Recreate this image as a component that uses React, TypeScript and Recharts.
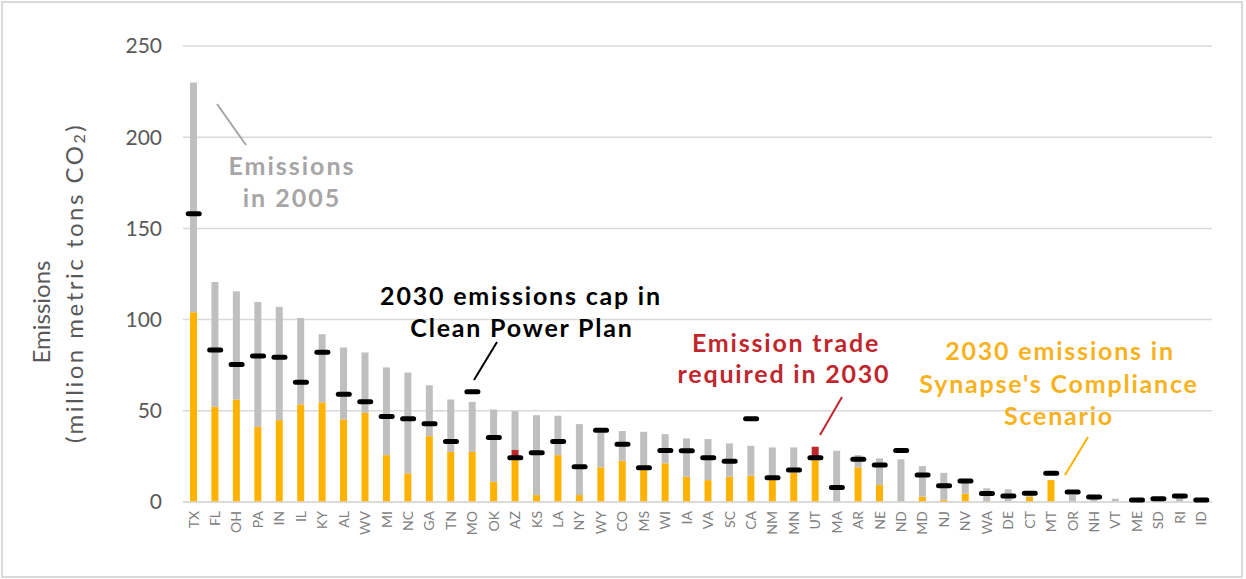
import React from 'react';
import { ComposedChart, Bar, Line, XAxis, YAxis, CartesianGrid } from 'recharts';

const STATES = [
  'TX', 'FL', 'OH', 'PA', 'IN', 'IL', 'KY', 'AL', 'WV', 'MI', 'NC', 'GA', 'TN', 'MO', 'OK', 'AZ',
  'KS', 'LA', 'NY', 'WY', 'CO', 'MS', 'WI', 'IA', 'VA', 'SC', 'CA', 'NM', 'MN', 'UT', 'MA', 'AR',
  'NE', 'ND', 'MD', 'NJ', 'NV', 'WA', 'DE', 'CT', 'MT', 'OR', 'NH', 'VT', 'ME', 'SD', 'RI', 'ID',
];

// 2005 emissions (grey bar total)
const EMISSIONS_2005 = [
  230, 120.6, 115.5, 109.7, 107, 100.9, 92, 84.7, 82, 73.8, 71, 64, 56.2, 54.9, 50.7, 49.8,
  47.6, 47.3, 42.7, 38, 38.9, 38.5, 37.2, 34.9, 34.5, 32.1, 30.8, 29.9, 29.9, 29.5, 28.1, 25.7,
  23.9, 23.4, 19.7, 16, 12, 7.5, 7, 4.5, 12, 3.8, 2.5, 1.8, 1, 1.5, 3, 1,
];

// Clean Power Plan 2030 cap (black marks), VT has none
const CAP_2030 = [
  158, 83.4, 75.4, 80.1, 79.4, 65.7, 82.1, 59.1, 54.9, 46.9, 45.6, 42.9, 33.2, 60.4, 35.4, 24.3,
  27, 33.2, 19.3, 39.4, 31.6, 18.8, 28.3, 28.1, 24.3, 22.3, 45.6, 13.3, 17.5, 24.3, 8, 23.5,
  20.3, 28.3, 14.8, 8.9, 11.5, 4.6, 3.3, 4.8, 15.7, 5.5, 2.7, null, 1.1, 1.8, 3.3, 1.1,
];

// Synapse compliance scenario 2030 emissions
const SYNAPSE_2030 = [
  104, 52.2, 56.2, 41.2, 44.9, 53.5, 54.6, 45.3, 48.9, 25.7, 15.7, 36.1, 27.5, 27.5, 11.1, 28.5,
  3.8, 25.7, 3.8, 19, 22.6, 19.6, 21.2, 13.9, 12, 13.9, 14.4, 12.4, 16, 30.3, 0, 19,
  9.3, 0.3, 2.9, 1.3, 4.5, 0.5, 0, 2.9, 12, 0, 0, 0, 0, 0, 0, 0,
];

const Y_TICKS = [0, 50, 100, 150, 200, 250];

const YELLOW = '#FFB300';
const GREY = '#BFBFBF';
const RED = '#C0272D';
const FONT = 'Lato, "Open Sans", sans-serif';

const data = STATES.map((state, i) => {
  const cap = CAP_2030[i];
  const syn = SYNAPSE_2030[i];
  return {
    state,
    withinCap: cap == null ? syn : Math.min(syn, cap),
    trade: cap == null ? 0 : Math.max(0, syn - cap),
    rest: Math.max(0, EMISSIONS_2005[i] - syn),
    cap,
  };
});

const StateTick = ({ x, y, payload }: any) => (
  <text
    x={x}
    y={y}
    transform={`rotate(-90 ${x} ${y})`}
    textAnchor="end"
    dy="0.35em"
    fontSize={14}
    fill="#808080"
    fontFamily={FONT}
  >
    {payload.value}
  </text>
);

const CapMark = (props: any) => {
  const { cx, cy, index } = props;
  if (cy == null || isNaN(cy)) return <g key={`cap-${index}`} />;
  return <rect key={`cap-${index}`} x={cx - 8} y={cy - 2.5} width={16} height={5} rx={2.5} fill="#000" />;
};

export default function App() {
  return (
    <div style={{ position: 'absolute', left: 0, top: 0, width: 1246, height: 579, background: '#fff' }}>
      <ComposedChart
        width={1246}
        height={579}
        data={data}
        margin={{ top: 46, right: 34, bottom: 0, left: 0 }}
        barCategoryGap={0}
      >
        <CartesianGrid vertical={false} stroke="#D9D9D9" strokeWidth={1.5} />
        <XAxis
          dataKey="state"
          interval={0}
          height={77}
          tick={<StateTick />}
          tickLine={false}
          tickSize={0}
          tickMargin={9}
          axisLine={{ stroke: '#D9D9D9', strokeWidth: 1.5 }}
        />
        <YAxis
          width={183}
          domain={[0, 250]}
          ticks={Y_TICKS}
          axisLine={false}
          tickLine={false}
          tickSize={0}
          tickMargin={21}
          tick={{ fill: '#595959', fontSize: 21, fontFamily: FONT }}
        />
        <Bar dataKey="withinCap" stackId="s" fill={YELLOW} barSize={7} isAnimationActive={false} />
        <Bar dataKey="trade" stackId="s" fill={RED} barSize={7} isAnimationActive={false} />
        <Bar dataKey="rest" stackId="s" fill={GREY} barSize={7} isAnimationActive={false} />
        <Line
          dataKey="cap"
          stroke="none"
          dot={CapMark}
          activeDot={false}
          legendType="none"
          isAnimationActive={false}
        />
      </ComposedChart>

      <svg
        width={1246}
        height={579}
        style={{ position: 'absolute', left: 0, top: 0, pointerEvents: 'none' }}
        fontFamily={FONT}
      >
        <rect x={2} y={2} width={1240} height={575} fill="none" stroke="#DADADA" strokeWidth={2} />

        {/* y axis title */}
        <text x={40} y={312} transform="rotate(-90 40 312)" textAnchor="middle" dominantBaseline="central" fontSize={24} fill="#595959">
          Emissions
        </text>
        <text x={73} y={283} transform="rotate(-90 73 283)" textAnchor="middle" dominantBaseline="central" fontSize={24} letterSpacing={2.5} fill="#595959">
          (million metric tons CO<tspan fontSize={16} dy={5}>2</tspan><tspan dy={-5}>)</tspan>
        </text>

        {/* annotations */}
        <line x1={217} y1={104} x2={246} y2={145} stroke="#A6A6A6" strokeWidth={2} />
        <g fontSize={25} fontWeight={700} letterSpacing={2} fill="#A6A6A6" textAnchor="middle" dominantBaseline="central">
          <text x={292} y={165}>Emissions</text>
          <text x={292} y={197}>in 2005</text>
        </g>

        <line x1={497} y1={342} x2={474} y2={380} stroke="#000" strokeWidth={2} />
        <g fontSize={25} fontWeight={700} letterSpacing={1.8} fill="#000" textAnchor="middle" dominantBaseline="central">
          <text x={521} y={295}>2030 emissions cap in</text>
          <text x={522} y={327}>Clean Power Plan</text>
        </g>

        <line x1={842} y1={397} x2={820} y2={435} stroke={RED} strokeWidth={2} />
        <g fontSize={25} fontWeight={700} letterSpacing={1.8} fill={RED} textAnchor="middle" dominantBaseline="central">
          <text x={786} y={342}>Emission trade</text>
          <text x={784} y={373}>required in 2030</text>
        </g>

        <line x1={1088} y1={437} x2={1065} y2={475} stroke={YELLOW} strokeWidth={2} />
        <g fontSize={25} fontWeight={700} letterSpacing={1.8} fill="#F7B21E" textAnchor="middle" dominantBaseline="central">
          <text x={1060} y={350}>2030 emissions in</text>
          <text x={1059} y={383}>Synapse's Compliance</text>
          <text x={1059} y={415}>Scenario</text>
        </g>
      </svg>
    </div>
  );
}
